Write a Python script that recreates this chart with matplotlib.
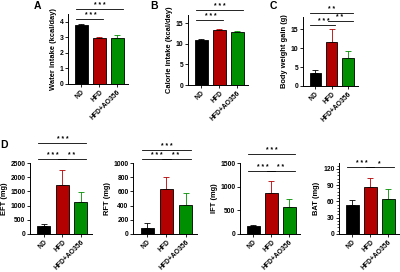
import matplotlib
matplotlib.use("Agg")
import matplotlib.pyplot as plt
from matplotlib.ticker import MultipleLocator

plt.rcParams['font.family'] = ['Liberation Sans', 'DejaVu Sans']
plt.rcParams['font.weight'] = 'bold'

groups = ["ND", "HFD", "HFD+AO356"]
colors = ["#000000", "#b30000", "#008f00"]

water_mean = [3.8, 2.95, 2.97]
water_err = [0.08, 0.08, 0.2]
calorie_mean = [11.0, 13.3, 12.8]
calorie_err = [0.1, 0.2, 0.2]
bwg_mean = [3.3, 11.5, 7.5]
bwg_err = [0.8, 3.5, 1.8]
eft_mean = [280, 1730, 1120]
eft_err = [60, 540, 350]
rft_mean = [85, 640, 405]
rft_err = [75, 160, 170]
ift_mean = [160, 860, 560]
ift_err = [40, 250, 185]
bat_mean = [54, 87, 64]
bat_err = [9, 17, 19]

W, H = 400, 272
fig = plt.figure(figsize=(W / 100, H / 100), dpi=100)


def add_ax(x0, x1, ytop, ybot):
    return fig.add_axes([x0 / W, 1 - ybot / H, (x1 - x0) / W, (ybot - ytop) / H])


def panel(ax, means, errs, ylabel, ylim, major, minor, sigs):
    x = range(len(means))
    ax.bar(x, means, width=0.7, color=colors, edgecolor='black', linewidth=0.6, zorder=2)
    for i in x:
        ax.errorbar(i, means[i], yerr=[[0], [errs[i]]], fmt='none', ecolor=colors[i],
                    elinewidth=0.6, capsize=2.2, capthick=0.6, zorder=1)
    ax.set_xlim(-0.75, 2.6)
    ax.set_ylim(*ylim)
    ax.yaxis.set_major_locator(MultipleLocator(major))
    if minor:
        ax.yaxis.set_minor_locator(MultipleLocator(minor))
    for s in ['top', 'right']:
        ax.spines[s].set_visible(False)
    for s in ['left', 'bottom']:
        ax.spines[s].set_linewidth(0.7)
    ax.set_xticks(list(x))
    ax.set_xticklabels(groups, rotation=45, ha='right', rotation_mode='anchor', fontsize=4.9, fontweight='bold')
    ax.tick_params(axis='both', length=2, width=0.6, pad=1.2, labelsize=4.9)
    ax.tick_params(axis='y', which='minor', length=1.2, width=0.5)
    ax.set_ylabel(ylabel, fontsize=5.4, fontweight='bold', labelpad=2)
    for (a, b, y, txt) in sigs:
        ax.plot([a - 0.3 if a == 0 else a - 0.22, b + 0.3 if b == 2 else b + 0.22], [y, y],
                color='black', lw=0.6, clip_on=False)
        ax.text((a + b) / 2, y, txt, ha='center', va='bottom', fontsize=4.8, fontweight='bold',
                clip_on=False)


axA = add_ax(68, 128, 14, 84)
panel(axA, water_mean, water_err, "Water intake (kcal/day)", (0, 4.5), 1, None,
      [(0, 1, 4.2, "* * *"), (0, 2, 4.8, "* * *")])
axB = add_ax(188, 248, 15, 85)
panel(axB, calorie_mean, calorie_err, "Calorie intake (kcal/day)", (0, 17), 5, None,
      [(0, 1, 15.8, "* * *"), (0, 2, 18.3, "* * *")])
axC = add_ax(303, 358, 17, 86)
panel(axC, bwg_mean, bwg_err, "Body weight gain (g)", (0, 18.2), 5, None,
      [(0, 1, 16.2, "* * *"), (1, 2, 17.1, "* *"), (0, 2, 19.3, "* *")])
axE = add_ax(30, 92, 163, 234)
panel(axE, eft_mean, eft_err, "EFT (mg)", (0, 2500), 500, None,
      [(0, 1, 2640, "* * *"), (1, 2, 2640, "* *"), (0, 2, 3200, "* * *")])
axR = add_ax(133, 197, 163, 234)
panel(axR, rft_mean, rft_err, "RFT (mg)", (0, 1000), 200, None,
      [(0, 1, 1056, "* * *"), (1, 2, 1056, "* *"), (0, 2, 1190, "* * *")])
axI = add_ax(240, 300, 163, 234)
panel(axI, ift_mean, ift_err, "IFT (mg)", (0, 1500), 500, None,
      [(0, 1, 1337, "* * *"), (1, 2, 1337, "* *"), (0, 2, 1690, "* * *")])
axT = add_ax(339, 399, 163, 234)
panel(axT, bat_mean, bat_err, "BAT (mg)", (0, 131), 30, 6,
      [(0, 1, 124, "* * *"), (1, 2, 124, "*")])

for lab, x, y in [("A", 37, 6), ("B", 154, 6), ("C", 273, 6), ("D", 4, 145)]:
    fig.text(x / W, 1 - y / H, lab, fontsize=7.5, fontweight='bold', ha='center', va='center')

fig.savefig("out.png", dpi=100)
